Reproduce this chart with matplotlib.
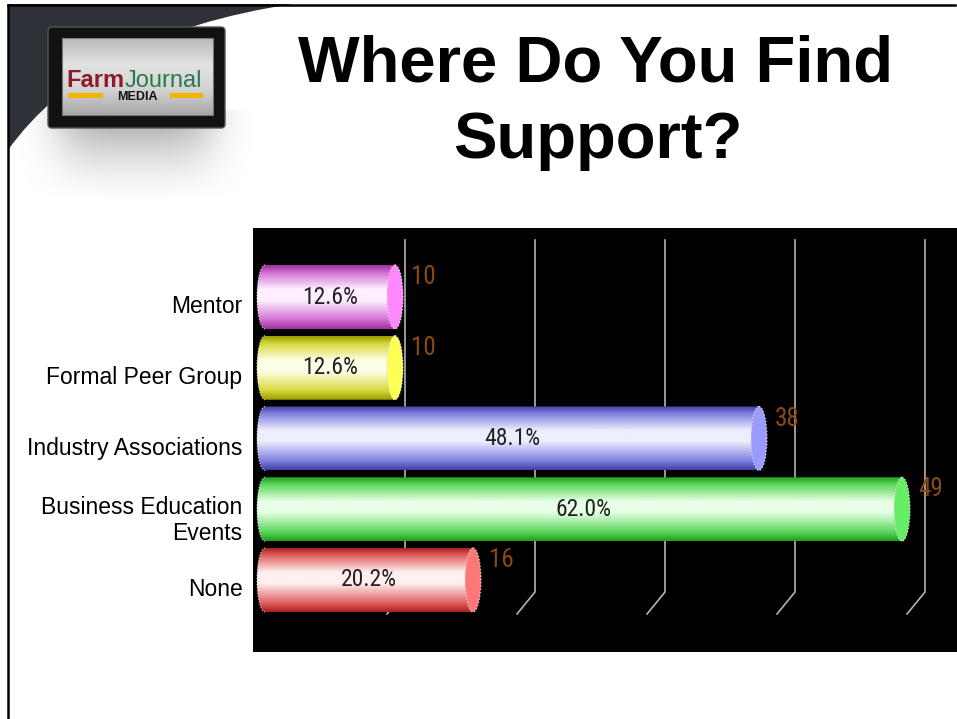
import numpy as np
import matplotlib
matplotlib.use('Agg')
import matplotlib.pyplot as plt
from matplotlib.patches import Polygon, Ellipse, Rectangle, FancyBboxPatch, PathPatch
from matplotlib.path import Path
from matplotlib.colors import LinearSegmentedColormap
from matplotlib import font_manager, transforms

# --- data (top to bottom) ---
categories = ['Mentor', 'Formal Peer Group', 'Industry Associations',
              'Business Education\nEvents', 'None']
counts = [10, 10, 38, 49, 16]
percents = [12.6, 12.6, 48.1, 62.0, 20.2]
grid_ticks = [10, 20, 30, 40, 50]

title_lines = ['Where Do You Find', 'Support?']

# bar styles: (edge dark, mid, highlight, cap face)
bar_styles = [
    ('#a030a0', '#d474d4', '#fff0ff', '#ff88ff'),
    ('#9c9c00', '#d8d840', '#ffffe8', '#ffff55'),
    ('#4040a8', '#8282e0', '#eeeeff', '#9a9aff'),
    ('#1f9f1f', '#60d860', '#e6ffe6', '#66ee66'),
    ('#b02020', '#e06464', '#fff0f0', '#ff7777'),
]


def pick_font(*names):
    installed = {f.name for f in font_manager.fontManager.ttflist}
    for n in names:
        if n in installed:
            return n
    return 'DejaVu Sans'


ARIAL = pick_font('Liberation Sans', 'Arimo', 'DejaVu Sans')
NARROW = pick_font('Liberation Sans Narrow', 'Roboto Condensed', 'Liberation Sans')
narrow_ok = NARROW != 'Liberation Sans'

W, H = 957, 719
fig = plt.figure(figsize=(W / 100, H / 100), dpi=100)
fig.patch.set_facecolor('white')

# background layer in pixel coordinates
bg = fig.add_axes([0, 0, 1, 1])
bg.set_xlim(0, W)
bg.set_ylim(H, 0)
bg.axis('off')

# dark curved corner
corner = Path([(8, 4), (292, 4), (90, 35), (8, 150), (8, 4)],
              [Path.MOVETO, Path.LINETO, Path.CURVE3, Path.CURVE3, Path.CLOSEPOLY])
bg.add_patch(PathPatch(corner, facecolor='#2e3138', edgecolor='none', zorder=1))

# soft shadow under the logo
yy, xx = np.mgrid[110:215, 0:280]
horiz = np.exp(-((xx - 135) / 82.0) ** 4)
vert = np.clip((205 - yy) / 80.0, 0, 1) ** 1.6
alpha = horiz * vert
shadow = np.zeros(alpha.shape + (4,))
shadow[..., :3] = 0.42
shadow[..., 3] = alpha * 0.5
bg.imshow(shadow, extent=(0, 280, 215, 110), aspect='auto', zorder=2,
          interpolation='bilinear')

# slide borders
bg.plot([8, 955], [5, 5], color='black', lw=1.8, zorder=3)
bg.plot([8, 8], [5, H], color='black', lw=1.8, zorder=3)

# logo
bg.add_patch(FancyBboxPatch((48, 27), 177, 101, boxstyle='round,pad=0,rounding_size=4',
                            facecolor='#111111', edgecolor='#555555', lw=1, zorder=4))
grad = np.linspace(0, 1, 60).reshape(-1, 1)
logo_cmap = LinearSegmentedColormap.from_list('logo', ['#b9b9b9', '#e2e2e2', '#d4d4d4', '#a8a8a8'])
bg.imshow(grad, cmap=logo_cmap, extent=(62, 213, 115, 38), aspect='auto', zorder=5)
bg.add_patch(Rectangle((62, 38), 151, 77, fill=False, edgecolor='#777777', lw=0.8, zorder=6))
bg.text(125, 87, 'Farm', ha='right', va='baseline', fontsize=17, fontweight='bold',
        color='#8c1c2c', family=ARIAL, zorder=7)
bg.text(125, 87, 'Journal', ha='left', va='baseline', fontsize=17,
        color='#2a7a50', family=ARIAL, zorder=7)
bg.add_patch(Rectangle((68, 92.5), 35, 5.5, facecolor='#f2b600', edgecolor='none', zorder=7))
bg.add_patch(Rectangle((170, 92.5), 33, 5.5, facecolor='#f2b600', edgecolor='none', zorder=7))
bg.text(137, 100, 'MEDIA', ha='center', va='baseline', fontsize=9, fontweight='bold',
        color='#111111', family=ARIAL, zorder=7)

# title
bg.text(596, 82, title_lines[0], ha='center', va='baseline', fontsize=47,
        fontweight='bold', family=ARIAL, color='black')
bg.text(598, 158, title_lines[1], ha='center', va='baseline', fontsize=47,
        fontweight='bold', family=ARIAL, color='black')

# --- chart ---
PX = 13.0      # pixels per count
X0 = 265       # pixel of value 0
Y0 = 297       # pixel of first bar centre
DY = 70.75     # pixel pitch between bars
ax = fig.add_axes([253 / W, (H - 652) / H, (W - 253) / W, 424 / H])
ax.set_facecolor('black')
for s in ax.spines.values():
    s.set_visible(False)


def ypx(p):
    return (p - Y0) / DY


# 3D back-wall gridlines with floor diagonals
for g in grid_ticks:
    gx = g + 10 / PX
    ax.plot([gx, gx, gx - 18 / PX], [ypx(240), ypx(592), ypx(614)],
            color='#b4b4b4', lw=1.2, zorder=1, solid_joinstyle='miter')

pct_size = 17 if narrow_ok else 15
cnt_size = 18 if narrow_ok else 16

h = 32 / DY
a = 8 / PX
theta = np.linspace(np.pi / 2, 3 * np.pi / 2, 40)
grad = np.linspace(0, 1, 200).reshape(-1, 1)
for i, (v, p, st) in enumerate(zip(counts, percents, bar_styles)):
    dark, mid, hi, cap = st
    cmap = LinearSegmentedColormap.from_list(
        'b%d' % i, [(0, dark), (0.12, mid), (0.38, hi), (0.55, hi), (0.85, mid), (1, dark)])
    pts = [(a * np.cos(t), i - h * np.sin(t)) for t in theta] + [(v, i + h), (v, i - h)]
    body = Polygon(pts, closed=True, facecolor='none', edgecolor='none')
    ax.add_patch(body)
    im = ax.imshow(grad, cmap=cmap, extent=(-a - 0.1, v, i + h, i - h),
                   aspect='auto', zorder=2, interpolation='bilinear')
    im.set_clip_path(body)
    # dotted rim on the rounded left end
    ax.plot([q[0] for q in pts[:40]], [q[1] for q in pts[:40]], color='#cfcfcf',
            lw=0.8, ls=':', zorder=3)
    ax.add_patch(Ellipse((v, i), 2 * a, 2 * h, facecolor=cap, edgecolor='#d8d8d8',
                         lw=0.9, ls=':', zorder=3))
    ax.text(v / 2, i, f'{p:.1f}%', ha='center', va='center', fontsize=pct_size,
            family=NARROW, color='#222222', zorder=4)
    ax.text(v + 16 / PX, i - h, str(v), ha='left', va='top', fontsize=cnt_size,
            family=NARROW, color='#8c4a12', zorder=4)

ax.set_xlim((253 - X0) / PX, (W - X0) / PX)
ax.set_ylim(ypx(652), ypx(228))
ax.set_xticks([])
ax.set_yticks(range(len(categories)))
ax.set_yticklabels(categories, fontsize=16.5, family=ARIAL, color='black')
ax.tick_params(axis='y', length=0, pad=7.5)
shift = transforms.ScaledTranslation(0, -0.07, fig.dpi_scale_trans)
for lbl in ax.get_yticklabels():
    lbl.set_transform(lbl.get_transform() + shift)

fig.savefig('out.png', dpi=100, facecolor='white')
